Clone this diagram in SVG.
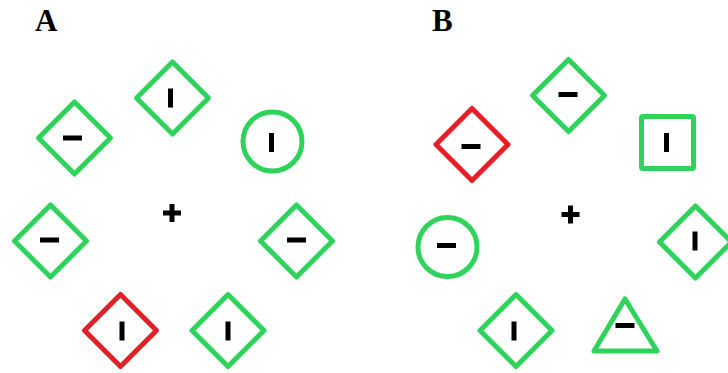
<svg xmlns="http://www.w3.org/2000/svg" width="728" height="373" viewBox="0 0 728 373">
<style>
.g{fill:none;stroke:#2fd35c;stroke-width:5;stroke-linejoin:round}
.r{fill:none;stroke:#e61e28;stroke-width:5;stroke-linejoin:round}
.k{fill:#000}
.lbl{font-family:"Liberation Serif",serif;font-weight:bold;font-size:31px;fill:#000}
</style>
<defs>
<path id="dia" d="M0,-36 L36,0 L0,36 L-36,0 Z"/>
<rect id="vbar" x="-2.5" y="-9.5" width="5" height="19"/>
<rect id="hbar" x="-9.5" y="-2.5" width="19" height="5"/>
<path id="plus" d="M-2.5,-9 H2.5 V-2.5 H9 V2.5 H2.5 V9 H-2.5 V2.5 H-9 V-2.5 H-2.5 Z"/>
</defs>
<text class="lbl" x="35" y="31">A</text>
<text class="lbl" x="432" y="31">B</text>
<g id="connectors"/>
<g id="a-plus"><use href="#plus" class="k" x="172" y="213"/></g>
<g id="a1"><use href="#dia" class="g" x="74.5" y="138"/><use href="#hbar" class="k" x="72.5" y="138"/></g>
<g id="a2"><use href="#dia" class="g" x="172.5" y="98"/><use href="#vbar" class="k" x="170.5" y="98"/></g>
<g id="a3"><circle class="g" cx="272.5" cy="141.5" r="29.5"/><use href="#vbar" class="k" x="271.5" y="142.5"/></g>
<g id="a4"><use href="#dia" class="g" x="50.5" y="241"/><use href="#hbar" class="k" x="49.5" y="240"/></g>
<g id="a5"><use href="#dia" class="g" x="296.5" y="241"/><use href="#hbar" class="k" x="296.5" y="240"/></g>
<g id="a6"><use href="#dia" class="r" x="120.5" y="330.5"/><use href="#vbar" class="k" x="122" y="331"/></g>
<g id="a7"><use href="#dia" class="g" x="228" y="330.5"/><use href="#vbar" class="k" x="228" y="331"/></g>
<g id="b-plus"><use href="#plus" class="k" x="570.5" y="214.5"/></g>
<g id="b1"><use href="#dia" class="g" x="568.5" y="95.5"/><use href="#hbar" class="k" x="568" y="94.5"/></g>
<g id="b2"><use href="#dia" class="r" x="472" y="144.5"/><use href="#hbar" class="k" x="471" y="146.5"/></g>
<g id="b3"><rect class="g" x="641.5" y="116.5" width="52" height="52" rx="1.5"/><use href="#vbar" class="k" x="666.5" y="142.5"/></g>
<g id="b4"><circle class="g" cx="447.5" cy="247" r="29.5"/><use href="#hbar" class="k" x="446.5" y="245.5"/></g>
<g id="b5"><use href="#dia" class="g" x="695.5" y="242"/><use href="#vbar" class="k" x="695" y="241"/></g>
<g id="b6"><use href="#dia" class="g" x="516" y="330.5"/><use href="#vbar" class="k" x="514" y="331"/></g>
<g id="b7"><path class="g" d="M625,299 L657,351 L594,351 Z"/><use href="#hbar" class="k" x="625" y="325.5"/></g>
</svg>
